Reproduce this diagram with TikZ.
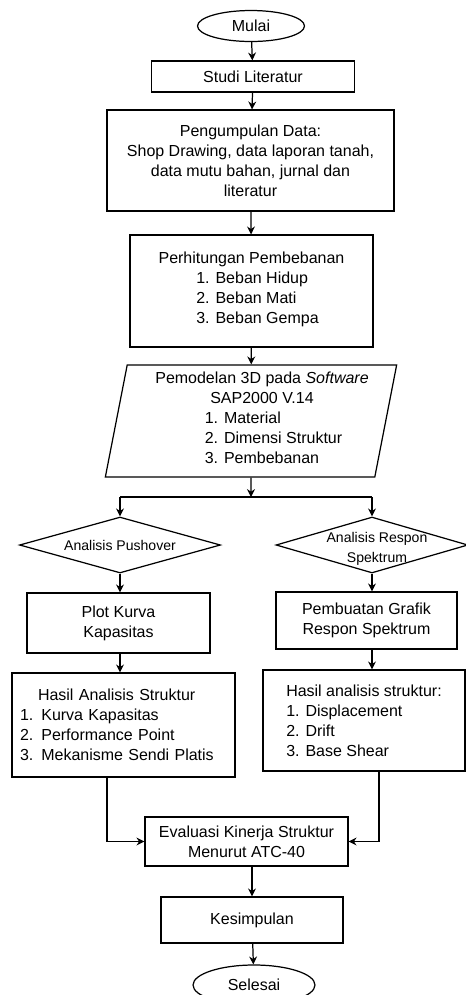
\documentclass[tikz,border=0pt]{standalone}
\usepackage{fontspec}
\setmainfont{Liberation Sans}
\usetikzlibrary{shapes.geometric,arrows.meta}

\begin{document}
\begin{tikzpicture}[x=0.02cm,y=-0.02cm,
    every node/.style={font=\fontsize{9.1}{11.4}\selectfont,align=center},
    box/.style={draw,line width=0.7pt,rectangle,inner sep=2pt},
    terminal/.style={draw,line width=0.7pt,ellipse,inner sep=0pt},
    decision/.style={draw,line width=0.7pt,diamond,aspect=3.6,inner sep=1pt,font=\fontsize{8}{11.4}\selectfont},
    io/.style={draw,line width=0.7pt,trapezium,trapezium left angle=78,trapezium right angle=102,trapezium stretches=true,inner sep=0pt},
    link/.style={line width=0.7pt},
    flow/.style={line width=0.7pt,-{Stealth[length=4.5pt,width=4.5pt]}}]
    \useasboundingbox (0,0) rectangle (466,995);
    \node[terminal,minimum width=2.14cm,minimum height=0.62cm] (mulai) at (251,26) {Mulai};
    \node[box,minimum width=4.06cm,minimum height=0.62cm] (studi) at (253,76.5) {Studi Literatur};
    \node[box,minimum width=5.74cm,minimum height=2.02cm] (data) at (250.5,160.5) {Pengumpulan Data:\\Shop Drawing, data laporan tanah,\\data mutu bahan, jurnal dan\\literatur};
    \node[box,minimum width=4.86cm,minimum height=2.24cm] (beban) at (251.5,291) {Perhitungan Pembebanan\\\hspace*{0.24cm}\begin{tabular}[t]{@{}l@{}}1. Beban Hidup\\2. Beban Mati\\3. Beban Gempa\end{tabular}};
    \node[io,minimum width=5.84cm,minimum height=2.24cm] (model) at (251,421) {\hspace*{0.44cm}Pemodelan 3D pada \textit{Software}\\\hspace*{0.44cm}SAP2000 V.14\\\hspace*{0.9cm}\begin{tabular}[t]{@{}l@{}}1. Material\\2. Dimensi Struktur\\3. Pembebanan\end{tabular}};
    \coordinate (split) at (251,497);
    \node[decision,minimum width=4.02cm,minimum height=1.12cm] (pushover) at (120,545) {Analisis Pushover};
    \node[decision,minimum width=3.84cm,minimum height=1.12cm,label={[font=\fontsize{8}{11.4}\selectfont,align=center,xshift=0.1cm,yshift=-0.08cm]center:Analisis Respon\\Spektrum}] (respon) at (372,545) {};
    \node[box,minimum width=3.66cm,minimum height=1.2cm] (plot) at (118.5,623) {Plot Kurva\\Kapasitas};
    \node[box,minimum width=3.62cm,minimum height=1.14cm] (grafik) at (366.5,620.5) {Pembuatan Grafik\\Respon Spektrum};
    \node[box,minimum width=4.46cm,minimum height=2.08cm,text width=4.14cm,align=left] (hasilkiri) at (123.5,725) {\hspace*{0.36cm}Hasil Analisis Struktur\\1. Kurva Kapasitas\\2. Performance Point\\3. Mekanisme Sendi Platis};
    \node[box,minimum width=4.04cm,minimum height=2.02cm,align=left] (hasilkanan) at (364,720.5) {Hasil analisis struktur:\\1. Displacement\\2. Drift\\3. Base Shear};
    \node[box,minimum width=4.06cm,minimum height=0.98cm] (evaluasi) at (246.5,841.5) {Evaluasi Kinerja Struktur\\Menurut ATC-40};
    \node[box,minimum width=3.64cm,minimum height=0.92cm] (kesimpulan) at (252,920) {Kesimpulan};
    \node[terminal,minimum width=2.44cm,minimum height=0.8cm] (selesai) at (254,985) {Selesai};
    \draw[flow] (mulai) -- (studi);
    \draw[flow] (studi) -- (data);
    \draw[flow] (data) -- (beban);
    \draw[flow] (beban) -- (model);
    \draw[flow] (model) -- (split);
    \draw[link] (split -| pushover) -- (split -| respon);
    \draw[flow] (split -| pushover) -- (pushover.north);
    \draw[flow] (split -| respon) -- (respon.north);
    \draw[flow] (pushover.south) -- (pushover.south |- plot.north);
    \draw[flow] (respon.south) -- (respon.south |- grafik.north);
    \draw[flow] (pushover.south |- plot.south) -- (pushover.south |- hasilkiri.north);
    \draw[flow] (respon.south |- grafik.south) -- (respon.south |- hasilkanan.north);
    \draw[flow] ([xshift=-0.33cm]hasilkiri.south) |- (evaluasi.west);
    \draw[flow] ([xshift=0.3cm]hasilkanan.south) |- (evaluasi.east);
    \draw[flow] (evaluasi.south -| kesimpulan) -- (kesimpulan.north);
    \draw[flow] (kesimpulan) -- (selesai);
\end{tikzpicture}
\end{document}
